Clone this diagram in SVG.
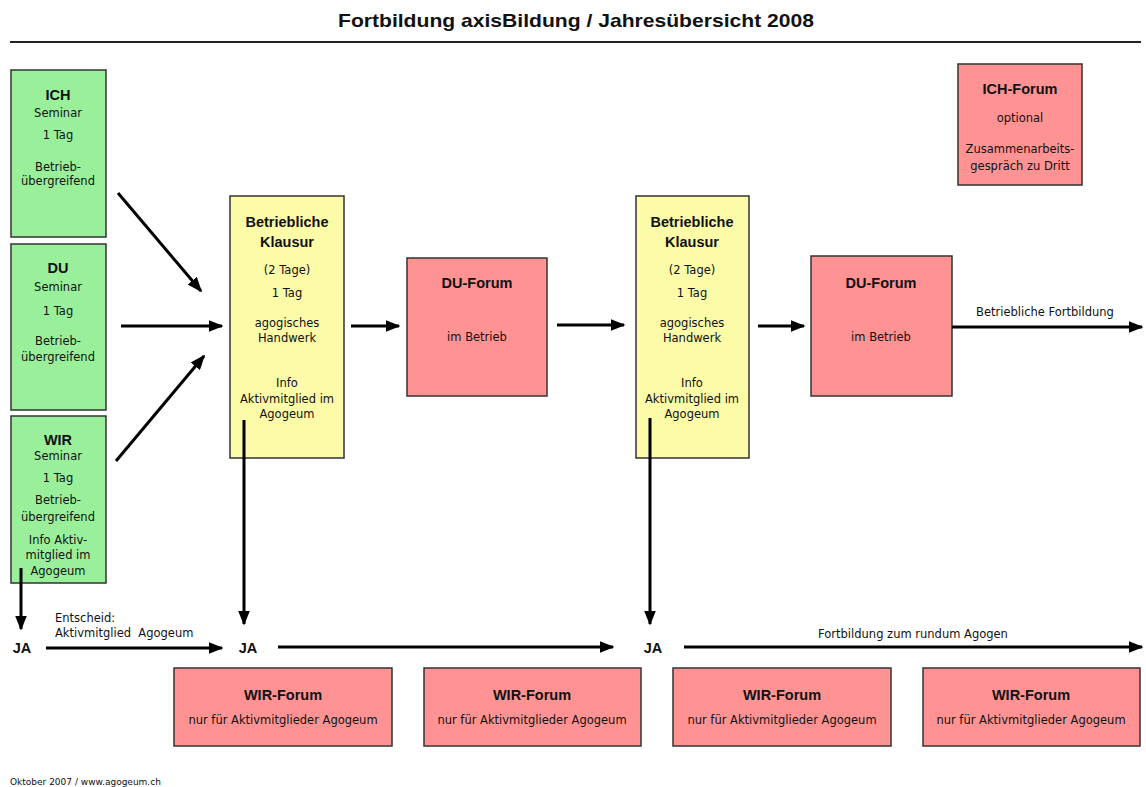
<svg xmlns="http://www.w3.org/2000/svg" width="1146" height="787" viewBox="0 0 1146 787">
<style>
text{font-family:"Liberation Sans",Arial,sans-serif;fill:#111;text-anchor:middle}
.t{font-size:19px;font-weight:bold}
.h{font-size:14.5px;font-weight:bold}
.s{font-family:"DejaVu Sans",Verdana,sans-serif;font-size:11.5px}
.l{text-anchor:start}
.g{fill:#9AF09A;stroke:#333;stroke-width:1.5}
.y{fill:#FBFBA8;stroke:#333;stroke-width:1.5}
.r{fill:#FF9393;stroke:#333;stroke-width:1.5}
.c{stroke:#000;stroke-width:3;fill:none;marker-end:url(#ah)}
</style>
<defs>
<marker id="ah" markerWidth="5" markerHeight="4" refX="4.5" refY="2" orient="auto" markerUnits="strokeWidth">
<path d="M0,0 L5,2 L0,4 Z" fill="#000"/>
</marker>
</defs>
<rect width="1146" height="787" fill="#fff"/>
<text class="t" x="576" y="27" textLength="476" lengthAdjust="spacingAndGlyphs">Fortbildung axisBildung / Jahresübersicht 2008</text>
<line x1="10" y1="42" x2="1141" y2="42" stroke="#222" stroke-width="2"/>

<g id="ich">
<rect class="g" x="11" y="70" width="95" height="167"/>
<text class="h" x="58" y="100">ICH</text>
<text class="s" x="58" y="117">Seminar</text>
<text class="s" x="58" y="139">1 Tag</text>
<text class="s" x="58" y="171">Betrieb-</text>
<text class="s" x="58" y="185">übergreifend</text>
</g>
<g id="du">
<rect class="g" x="11" y="244" width="95" height="166"/>
<text class="h" x="58" y="273">DU</text>
<text class="s" x="58" y="291">Seminar</text>
<text class="s" x="58" y="315">1 Tag</text>
<text class="s" x="58" y="345">Betrieb-</text>
<text class="s" x="58" y="361">übergreifend</text>
</g>
<g id="wir">
<rect class="g" x="11" y="416" width="95" height="167"/>
<text class="h" x="58" y="445">WIR</text>
<text class="s" x="58" y="460">Seminar</text>
<text class="s" x="58" y="482">1 Tag</text>
<text class="s" x="58" y="504">Betrieb-</text>
<text class="s" x="58" y="521">übergreifend</text>
<text class="s" x="58" y="544">Info Aktiv-</text>
<text class="s" x="58" y="559">mitglied im</text>
<text class="s" x="58" y="575">Agogeum</text>
</g>
<g id="klausur1">
<rect class="y" x="230" y="196" width="114" height="262"/>
<text class="h" x="287" y="227">Betriebliche</text>
<text class="h" x="287" y="247">Klausur</text>
<text class="s" x="287" y="274">(2 Tage)</text>
<text class="s" x="287" y="297">1 Tag</text>
<text class="s" x="287" y="327">agogisches</text>
<text class="s" x="287" y="342">Handwerk</text>
<text class="s" x="287" y="387">Info</text>
<text class="s" x="287" y="403">Aktivmitglied im</text>
<text class="s" x="287" y="418">Agogeum</text>
</g>
<g id="duforum1">
<rect class="r" x="407" y="258" width="140" height="138"/>
<text class="h" x="477" y="288">DU-Forum</text>
<text class="s" x="477" y="341">im Betrieb</text>
</g>
<g id="klausur2">
<rect class="y" x="636" y="196" width="113" height="262"/>
<text class="h" x="692" y="227">Betriebliche</text>
<text class="h" x="692" y="247">Klausur</text>
<text class="s" x="692" y="274">(2 Tage)</text>
<text class="s" x="692" y="297">1 Tag</text>
<text class="s" x="692" y="327">agogisches</text>
<text class="s" x="692" y="342">Handwerk</text>
<text class="s" x="692" y="387">Info</text>
<text class="s" x="692" y="403">Aktivmitglied im</text>
<text class="s" x="692" y="418">Agogeum</text>
</g>
<g id="duforum2">
<rect class="r" x="811" y="256" width="141" height="140"/>
<text class="h" x="881" y="288">DU-Forum</text>
<text class="s" x="881" y="341">im Betrieb</text>
</g>
<g id="ichforum">
<rect class="r" x="958" y="64" width="124" height="121"/>
<text class="h" x="1020" y="94">ICH-Forum</text>
<text class="s" x="1020" y="122">optional</text>
<text class="s" x="1020" y="153">Zusammenarbeits-</text>
<text class="s" x="1020" y="170">gespräch zu Dritt</text>
</g>
<g id="wirforum1">
<rect class="r" x="174" y="668" width="218" height="78"/>
<text class="h" x="283" y="700">WIR-Forum</text>
<text class="s" x="283" y="724">nur für Aktivmitglieder Agogeum</text>
</g>
<g id="wirforum2">
<rect class="r" x="424" y="668" width="217" height="78"/>
<text class="h" x="532" y="700">WIR-Forum</text>
<text class="s" x="532" y="724">nur für Aktivmitglieder Agogeum</text>
</g>
<g id="wirforum3">
<rect class="r" x="673" y="668" width="218" height="78"/>
<text class="h" x="782" y="700">WIR-Forum</text>
<text class="s" x="782" y="724">nur für Aktivmitglieder Agogeum</text>
</g>
<g id="wirforum4">
<rect class="r" x="923" y="668" width="217" height="78"/>
<text class="h" x="1031" y="700">WIR-Forum</text>
<text class="s" x="1031" y="724">nur für Aktivmitglieder Agogeum</text>
</g>
<g id="ja">
<text class="h" x="22" y="653">JA</text>
<text class="h" x="248" y="653">JA</text>
<text class="h" x="653" y="653">JA</text>
</g>
<g id="connectors">
<line class="c" x1="118" y1="193" x2="201" y2="291"/>
<line class="c" x1="121" y1="326" x2="222" y2="326"/>
<line class="c" x1="116" y1="461" x2="204" y2="356"/>
<line class="c" x1="351" y1="326" x2="399" y2="326"/>
<line class="c" x1="557" y1="325" x2="624" y2="325"/>
<line class="c" x1="758" y1="326" x2="804" y2="326"/>
<line class="c" x1="952" y1="327" x2="1142" y2="327"/>
<line class="c" x1="21" y1="568" x2="21" y2="629"/>
<line class="c" x1="244" y1="420" x2="244" y2="624"/>
<line class="c" x1="650" y1="418" x2="650" y2="624"/>
<line class="c" x1="46" y1="648" x2="222" y2="648"/>
<line class="c" x1="278" y1="647" x2="613" y2="647"/>
<line class="c" x1="684" y1="647" x2="1142" y2="647"/>
<text class="s" x="1045" y="316">Betriebliche Fortbildung</text>
<text class="s l" x="55" y="622">Entscheid:</text>
<text class="s l" x="55" y="637">Aktivmitglied&#160; Agogeum</text>
<text class="s" x="913" y="638">Fortbildung zum rundum Agogen</text>
</g>
<text x="10" y="785" style="font-family:'DejaVu Sans',sans-serif;font-size:9px;text-anchor:start">Oktober 2007 / www.agogeum.ch</text>
</svg>
